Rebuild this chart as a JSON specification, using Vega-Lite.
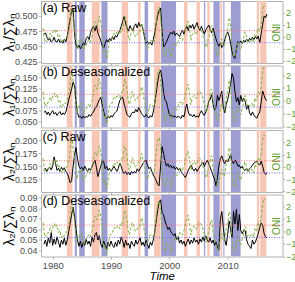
{
"$schema": "https://vega.github.io/schema/vega-lite/v6.json",
"padding": {"left": 1, "top": 0, "right": 0, "bottom": 0},
"spacing": 2.5,
"bounds": "flush",
"config": {
 "font": "Liberation Sans",
 "view": {"stroke": "#B3B3B3", "strokeWidth": 1},
 "axis": {"grid": false, "domain": false, "tickColor": "#B3B3B3", "tickSize": 2.5, "labelFontSize": 9, "labelColor": "#4D4D4D", "titleFontWeight": "normal", "titleColor": "#000000", "labelPadding": 1.5, "labelOverlap": false, "labelFlush": false, "labelBound": false}
},
"datasets": {
 "bands": [
  {"start":1982.43,"end":1983.40,"phase":"El Niño"},
  {"start":1983.79,"end":1984.14,"phase":"La Niña"},
  {"start":1984.56,"end":1985.50,"phase":"La Niña"},
  {"start":1986.70,"end":1988.05,"phase":"El Niño"},
  {"start":1988.35,"end":1989.40,"phase":"La Niña"},
  {"start":1991.83,"end":1992.94,"phase":"El Niño"},
  {"start":1994.65,"end":1995.08,"phase":"El Niño"},
  {"start":1995.76,"end":1996.36,"phase":"La Niña"},
  {"start":1997.38,"end":1998.50,"phase":"El Niño"},
  {"start":1998.58,"end":2001.15,"phase":"La Niña"},
  {"start":2002.51,"end":2003.11,"phase":"El Niño"},
  {"start":2004.65,"end":2005.25,"phase":"El Niño"},
  {"start":2005.93,"end":2006.15,"phase":"La Niña"},
  {"start":2006.50,"end":2006.92,"phase":"El Niño"},
  {"start":2007.56,"end":2008.63,"phase":"La Niña"},
  {"start":2008.75,"end":2009.06,"phase":"El Niño"},
  {"start":2009.26,"end":2009.44,"phase":"La Niña"},
  {"start":2010.55,"end":2012.22,"phase":"La Niña"},
  {"start":2015.00,"end":2015.40,"phase":"El Niño"},
  {"start":2015.57,"end":2016.65,"phase":"El Niño"}
 ],
 "series": [
  {"t":1978.5,"a":0.470,"b":0.071,"c":0.142,"d":0.046},
  {"t":1978.75,"a":0.472,"b":0.074,"c":0.146,"d":0.050},
  {"t":1979.0,"a":0.466,"b":0.066,"c":0.140,"d":0.044},
  {"t":1979.25,"a":0.460,"b":0.072,"c":0.145,"d":0.052},
  {"t":1979.5,"a":0.463,"b":0.064,"c":0.148,"d":0.047},
  {"t":1979.75,"a":0.457,"b":0.070,"c":0.143,"d":0.057},
  {"t":1980.0,"a":0.459,"b":0.075,"c":0.150,"d":0.045},
  {"t":1980.25,"a":0.465,"b":0.067,"c":0.168,"d":0.051},
  {"t":1980.5,"a":0.458,"b":0.071,"c":0.155,"d":0.046},
  {"t":1980.75,"a":0.457,"b":0.064,"c":0.142,"d":0.053},
  {"t":1981.0,"a":0.462,"b":0.069,"c":0.146,"d":0.048},
  {"t":1981.25,"a":0.456,"b":0.073,"c":0.140,"d":0.043},
  {"t":1981.5,"a":0.459,"b":0.065,"c":0.148,"d":0.050},
  {"t":1981.75,"a":0.455,"b":0.070,"c":0.143,"d":0.046},
  {"t":1982.0,"a":0.462,"b":0.066,"c":0.147,"d":0.052},
  {"t":1982.25,"a":0.457,"b":0.072,"c":0.140,"d":0.045},
  {"t":1982.5,"a":0.467,"b":0.085,"c":0.136,"d":0.050},
  {"t":1982.75,"a":0.480,"b":0.100,"c":0.128,"d":0.058},
  {"t":1983.0,"a":0.496,"b":0.112,"c":0.118,"d":0.066},
  {"t":1983.25,"a":0.508,"b":0.125,"c":0.122,"d":0.074},
  {"t":1983.5,"a":0.511,"b":0.140,"c":0.150,"d":0.081},
  {"t":1983.75,"a":0.470,"b":0.132,"c":0.172,"d":0.072},
  {"t":1984.0,"a":0.452,"b":0.095,"c":0.186,"d":0.060},
  {"t":1984.25,"a":0.447,"b":0.070,"c":0.165,"d":0.050},
  {"t":1984.5,"a":0.452,"b":0.060,"c":0.150,"d":0.044},
  {"t":1984.75,"a":0.446,"b":0.062,"c":0.145,"d":0.049},
  {"t":1985.0,"a":0.450,"b":0.057,"c":0.148,"d":0.043},
  {"t":1985.25,"a":0.456,"b":0.063,"c":0.142,"d":0.048},
  {"t":1985.5,"a":0.452,"b":0.058,"c":0.150,"d":0.045},
  {"t":1985.75,"a":0.463,"b":0.062,"c":0.144,"d":0.051},
  {"t":1986.0,"a":0.466,"b":0.060,"c":0.140,"d":0.046},
  {"t":1986.25,"a":0.461,"b":0.066,"c":0.146,"d":0.049},
  {"t":1986.5,"a":0.473,"b":0.062,"c":0.142,"d":0.044},
  {"t":1986.75,"a":0.479,"b":0.068,"c":0.150,"d":0.053},
  {"t":1987.0,"a":0.483,"b":0.072,"c":0.156,"d":0.048},
  {"t":1987.25,"a":0.475,"b":0.080,"c":0.162,"d":0.055},
  {"t":1987.5,"a":0.484,"b":0.083,"c":0.148,"d":0.057},
  {"t":1987.75,"a":0.472,"b":0.092,"c":0.130,"d":0.050},
  {"t":1988.0,"a":0.466,"b":0.100,"c":0.140,"d":0.054},
  {"t":1988.25,"a":0.459,"b":0.106,"c":0.150,"d":0.046},
  {"t":1988.5,"a":0.451,"b":0.088,"c":0.162,"d":0.043},
  {"t":1988.75,"a":0.447,"b":0.072,"c":0.158,"d":0.049},
  {"t":1989.0,"a":0.455,"b":0.060,"c":0.145,"d":0.045},
  {"t":1989.25,"a":0.461,"b":0.056,"c":0.150,"d":0.042},
  {"t":1989.5,"a":0.457,"b":0.062,"c":0.142,"d":0.048},
  {"t":1989.75,"a":0.463,"b":0.058,"c":0.146,"d":0.044},
  {"t":1990.0,"a":0.459,"b":0.064,"c":0.140,"d":0.049},
  {"t":1990.25,"a":0.466,"b":0.060,"c":0.144,"d":0.045},
  {"t":1990.5,"a":0.461,"b":0.068,"c":0.150,"d":0.043},
  {"t":1990.75,"a":0.468,"b":0.071,"c":0.145,"d":0.048},
  {"t":1991.0,"a":0.465,"b":0.074,"c":0.140,"d":0.044},
  {"t":1991.25,"a":0.471,"b":0.086,"c":0.146,"d":0.050},
  {"t":1991.5,"a":0.476,"b":0.098,"c":0.156,"d":0.046},
  {"t":1991.75,"a":0.483,"b":0.104,"c":0.150,"d":0.053},
  {"t":1992.0,"a":0.491,"b":0.106,"c":0.140,"d":0.049},
  {"t":1992.25,"a":0.499,"b":0.090,"c":0.136,"d":0.043},
  {"t":1992.5,"a":0.488,"b":0.078,"c":0.140,"d":0.050},
  {"t":1992.75,"a":0.480,"b":0.066,"c":0.134,"d":0.045},
  {"t":1993.0,"a":0.475,"b":0.062,"c":0.138,"d":0.047},
  {"t":1993.25,"a":0.484,"b":0.060,"c":0.133,"d":0.042},
  {"t":1993.5,"a":0.479,"b":0.068,"c":0.140,"d":0.049},
  {"t":1993.75,"a":0.476,"b":0.072,"c":0.136,"d":0.046},
  {"t":1994.0,"a":0.483,"b":0.070,"c":0.140,"d":0.044},
  {"t":1994.25,"a":0.487,"b":0.078,"c":0.137,"d":0.050},
  {"t":1994.5,"a":0.480,"b":0.072,"c":0.145,"d":0.046},
  {"t":1994.75,"a":0.489,"b":0.082,"c":0.140,"d":0.049},
  {"t":1995.0,"a":0.483,"b":0.075,"c":0.146,"d":0.052},
  {"t":1995.25,"a":0.486,"b":0.068,"c":0.150,"d":0.045},
  {"t":1995.5,"a":0.478,"b":0.064,"c":0.156,"d":0.048},
  {"t":1995.75,"a":0.465,"b":0.060,"c":0.160,"d":0.044},
  {"t":1996.0,"a":0.455,"b":0.066,"c":0.162,"d":0.050},
  {"t":1996.25,"a":0.458,"b":0.062,"c":0.152,"d":0.046},
  {"t":1996.5,"a":0.454,"b":0.058,"c":0.145,"d":0.042},
  {"t":1996.75,"a":0.457,"b":0.064,"c":0.148,"d":0.048},
  {"t":1997.0,"a":0.452,"b":0.060,"c":0.140,"d":0.045},
  {"t":1997.25,"a":0.461,"b":0.072,"c":0.133,"d":0.050},
  {"t":1997.5,"a":0.472,"b":0.092,"c":0.128,"d":0.058},
  {"t":1997.75,"a":0.488,"b":0.115,"c":0.122,"d":0.068},
  {"t":1998.0,"a":0.500,"b":0.140,"c":0.115,"d":0.078},
  {"t":1998.25,"a":0.509,"b":0.160,"c":0.112,"d":0.086},
  {"t":1998.5,"a":0.513,"b":0.168,"c":0.150,"d":0.088},
  {"t":1998.75,"a":0.476,"b":0.150,"c":0.188,"d":0.076},
  {"t":1999.0,"a":0.449,"b":0.118,"c":0.175,"d":0.074},
  {"t":1999.25,"a":0.452,"b":0.100,"c":0.160,"d":0.068},
  {"t":1999.5,"a":0.457,"b":0.095,"c":0.150,"d":0.064},
  {"t":1999.75,"a":0.463,"b":0.080,"c":0.155,"d":0.060},
  {"t":2000.0,"a":0.469,"b":0.066,"c":0.148,"d":0.062},
  {"t":2000.25,"a":0.473,"b":0.062,"c":0.152,"d":0.058},
  {"t":2000.5,"a":0.470,"b":0.064,"c":0.146,"d":0.056},
  {"t":2000.75,"a":0.475,"b":0.060,"c":0.150,"d":0.054},
  {"t":2001.0,"a":0.468,"b":0.063,"c":0.144,"d":0.056},
  {"t":2001.25,"a":0.472,"b":0.059,"c":0.148,"d":0.050},
  {"t":2001.5,"a":0.469,"b":0.062,"c":0.143,"d":0.053},
  {"t":2001.75,"a":0.466,"b":0.060,"c":0.146,"d":0.047},
  {"t":2002.0,"a":0.472,"b":0.057,"c":0.140,"d":0.050},
  {"t":2002.25,"a":0.477,"b":0.065,"c":0.136,"d":0.046},
  {"t":2002.5,"a":0.470,"b":0.060,"c":0.132,"d":0.049},
  {"t":2002.75,"a":0.478,"b":0.078,"c":0.128,"d":0.044},
  {"t":2003.0,"a":0.483,"b":0.090,"c":0.135,"d":0.048},
  {"t":2003.25,"a":0.476,"b":0.072,"c":0.142,"d":0.051},
  {"t":2003.5,"a":0.485,"b":0.064,"c":0.148,"d":0.046},
  {"t":2003.75,"a":0.480,"b":0.066,"c":0.152,"d":0.050},
  {"t":2004.0,"a":0.486,"b":0.061,"c":0.145,"d":0.047},
  {"t":2004.25,"a":0.478,"b":0.066,"c":0.141,"d":0.052},
  {"t":2004.5,"a":0.484,"b":0.060,"c":0.146,"d":0.048},
  {"t":2004.75,"a":0.489,"b":0.063,"c":0.140,"d":0.050},
  {"t":2005.0,"a":0.480,"b":0.060,"c":0.145,"d":0.046},
  {"t":2005.25,"a":0.476,"b":0.069,"c":0.150,"d":0.051},
  {"t":2005.5,"a":0.483,"b":0.075,"c":0.153,"d":0.048},
  {"t":2005.75,"a":0.476,"b":0.068,"c":0.158,"d":0.053},
  {"t":2006.0,"a":0.470,"b":0.064,"c":0.150,"d":0.049},
  {"t":2006.25,"a":0.477,"b":0.072,"c":0.156,"d":0.054},
  {"t":2006.5,"a":0.481,"b":0.080,"c":0.162,"d":0.050},
  {"t":2006.75,"a":0.485,"b":0.096,"c":0.155,"d":0.048},
  {"t":2007.0,"a":0.478,"b":0.100,"c":0.148,"d":0.052},
  {"t":2007.25,"a":0.472,"b":0.112,"c":0.140,"d":0.047},
  {"t":2007.5,"a":0.480,"b":0.090,"c":0.132,"d":0.050},
  {"t":2007.75,"a":0.470,"b":0.076,"c":0.125,"d":0.045},
  {"t":2008.0,"a":0.462,"b":0.082,"c":0.112,"d":0.048},
  {"t":2008.25,"a":0.455,"b":0.110,"c":0.128,"d":0.043},
  {"t":2008.5,"a":0.450,"b":0.098,"c":0.150,"d":0.041},
  {"t":2008.75,"a":0.456,"b":0.108,"c":0.165,"d":0.070},
  {"t":2009.0,"a":0.448,"b":0.120,"c":0.170,"d":0.077},
  {"t":2009.25,"a":0.452,"b":0.082,"c":0.160,"d":0.062},
  {"t":2009.5,"a":0.461,"b":0.070,"c":0.155,"d":0.050},
  {"t":2009.75,"a":0.468,"b":0.090,"c":0.162,"d":0.045},
  {"t":2010.0,"a":0.474,"b":0.100,"c":0.158,"d":0.055},
  {"t":2010.25,"a":0.467,"b":0.116,"c":0.165,"d":0.068},
  {"t":2010.5,"a":0.455,"b":0.135,"c":0.172,"d":0.060},
  {"t":2010.75,"a":0.441,"b":0.160,"c":0.160,"d":0.052},
  {"t":2011.0,"a":0.433,"b":0.150,"c":0.155,"d":0.077},
  {"t":2011.25,"a":0.430,"b":0.118,"c":0.162,"d":0.065},
  {"t":2011.5,"a":0.446,"b":0.095,"c":0.158,"d":0.079},
  {"t":2011.75,"a":0.458,"b":0.105,"c":0.150,"d":0.059},
  {"t":2012.0,"a":0.455,"b":0.088,"c":0.152,"d":0.074},
  {"t":2012.25,"a":0.459,"b":0.110,"c":0.146,"d":0.059},
  {"t":2012.5,"a":0.454,"b":0.096,"c":0.150,"d":0.056},
  {"t":2012.75,"a":0.460,"b":0.104,"c":0.143,"d":0.059},
  {"t":2013.0,"a":0.457,"b":0.096,"c":0.142,"d":0.059},
  {"t":2013.25,"a":0.462,"b":0.078,"c":0.146,"d":0.050},
  {"t":2013.5,"a":0.458,"b":0.088,"c":0.140,"d":0.046},
  {"t":2013.75,"a":0.463,"b":0.070,"c":0.145,"d":0.044},
  {"t":2014.0,"a":0.460,"b":0.064,"c":0.148,"d":0.042},
  {"t":2014.25,"a":0.465,"b":0.072,"c":0.152,"d":0.050},
  {"t":2014.5,"a":0.461,"b":0.065,"c":0.156,"d":0.046},
  {"t":2014.75,"a":0.466,"b":0.060,"c":0.158,"d":0.048},
  {"t":2015.0,"a":0.462,"b":0.058,"c":0.160,"d":0.052},
  {"t":2015.25,"a":0.467,"b":0.066,"c":0.155,"d":0.056},
  {"t":2015.5,"a":0.456,"b":0.072,"c":0.152,"d":0.062},
  {"t":2015.75,"a":0.471,"b":0.095,"c":0.160,"d":0.066},
  {"t":2016.0,"a":0.486,"b":0.120,"c":0.150,"d":0.064},
  {"t":2016.25,"a":0.500,"b":0.110,"c":0.138,"d":0.056},
  {"t":2016.5,"a":0.497,"b":0.100,"c":0.134,"d":0.053},
  {"t":2016.75,"a":0.503,"b":0.098,"c":0.138,"d":0.052}
 ],
 "oni": [
  {"t":1978.35,"o":0.7},{"t":1978.43,"o":0.4},{"t":1978.52,"o":0.0},{"t":1978.6,"o":-0.3},{"t":1978.68,"o":-0.4},{"t":1978.77,"o":-0.3},{"t":1978.85,"o":-0.4},{"t":1978.93,"o":-0.4},{"t":1979.02,"o":-0.4},{"t":1979.1,"o":-0.3},{"t":1979.18,"o":-0.1},{"t":1979.27,"o":-0.1},
  {"t":1979.35,"o":-0.1},{"t":1979.43,"o":0.1},{"t":1979.52,"o":0.2},{"t":1979.6,"o":0.3},{"t":1979.68,"o":0.2},{"t":1979.77,"o":0.0},{"t":1979.85,"o":0.0},{"t":1979.93,"o":0.2},{"t":1980.02,"o":0.3},{"t":1980.1,"o":0.5},{"t":1980.18,"o":0.5},{"t":1980.27,"o":0.6},
  {"t":1980.35,"o":0.6},{"t":1980.43,"o":0.5},{"t":1980.52,"o":0.3},{"t":1980.6,"o":0.4},{"t":1980.68,"o":0.5},{"t":1980.77,"o":0.5},{"t":1980.85,"o":0.3},{"t":1980.93,"o":0.0},{"t":1981.02,"o":-0.1},{"t":1981.1,"o":0.0},{"t":1981.18,"o":0.1},{"t":1981.27,"o":0.0},
  {"t":1981.35,"o":-0.3},{"t":1981.43,"o":-0.5},{"t":1981.52,"o":-0.5},{"t":1981.6,"o":-0.4},{"t":1981.68,"o":-0.3},{"t":1981.77,"o":-0.3},{"t":1981.85,"o":-0.4},{"t":1981.93,"o":-0.4},{"t":1982.02,"o":-0.3},{"t":1982.1,"o":-0.2},{"t":1982.18,"o":-0.2},{"t":1982.27,"o":-0.1},
  {"t":1982.35,"o":-0.1},{"t":1982.43,"o":0.0},{"t":1982.52,"o":0.1},{"t":1982.6,"o":0.3},{"t":1982.68,"o":0.5},{"t":1982.77,"o":0.6},{"t":1982.85,"o":0.7},{"t":1982.93,"o":1.0},{"t":1983.02,"o":1.5},{"t":1983.1,"o":1.9},{"t":1983.18,"o":2.1},{"t":1983.27,"o":2.2},
  {"t":1983.35,"o":2.2},{"t":1983.43,"o":1.9},{"t":1983.52,"o":1.5},{"t":1983.6,"o":1.3},{"t":1983.68,"o":1.1},{"t":1983.77,"o":0.7},{"t":1983.85,"o":0.3},{"t":1983.93,"o":-0.1},{"t":1984.02,"o":-0.5},{"t":1984.1,"o":-0.8},{"t":1984.18,"o":-1.0},{"t":1984.27,"o":-0.9},
  {"t":1984.35,"o":-0.6},{"t":1984.43,"o":-0.4},{"t":1984.52,"o":-0.3},{"t":1984.6,"o":-0.4},{"t":1984.68,"o":-0.5},{"t":1984.77,"o":-0.4},{"t":1984.85,"o":-0.3},{"t":1984.93,"o":-0.2},{"t":1985.02,"o":-0.2},{"t":1985.1,"o":-0.6},{"t":1985.18,"o":-0.9},{"t":1985.27,"o":-1.1},
  {"t":1985.35,"o":-1.0},{"t":1985.43,"o":-0.8},{"t":1985.52,"o":-0.8},{"t":1985.6,"o":-0.8},{"t":1985.68,"o":-0.8},{"t":1985.77,"o":-0.6},{"t":1985.85,"o":-0.5},{"t":1985.93,"o":-0.5},{"t":1986.02,"o":-0.4},{"t":1986.1,"o":-0.3},{"t":1986.18,"o":-0.3},{"t":1986.27,"o":-0.4},
  {"t":1986.35,"o":-0.5},{"t":1986.43,"o":-0.5},{"t":1986.52,"o":-0.3},{"t":1986.6,"o":-0.2},{"t":1986.68,"o":-0.1},{"t":1986.77,"o":0.0},{"t":1986.85,"o":0.2},{"t":1986.93,"o":0.4},{"t":1987.02,"o":0.7},{"t":1987.1,"o":0.9},{"t":1987.18,"o":1.1},{"t":1987.27,"o":1.2},
  {"t":1987.35,"o":1.2},{"t":1987.43,"o":1.2},{"t":1987.52,"o":1.1},{"t":1987.6,"o":0.9},{"t":1987.68,"o":1.0},{"t":1987.77,"o":1.2},{"t":1987.85,"o":1.5},{"t":1987.93,"o":1.7},{"t":1988.02,"o":1.6},{"t":1988.1,"o":1.5},{"t":1988.18,"o":1.3},{"t":1988.27,"o":1.1},
  {"t":1988.35,"o":0.8},{"t":1988.43,"o":0.5},{"t":1988.52,"o":0.1},{"t":1988.6,"o":-0.3},{"t":1988.68,"o":-0.9},{"t":1988.77,"o":-1.3},{"t":1988.85,"o":-1.3},{"t":1988.93,"o":-1.1},{"t":1989.02,"o":-1.2},{"t":1989.1,"o":-1.5},{"t":1989.18,"o":-1.8},{"t":1989.27,"o":-1.8},
  {"t":1989.35,"o":-1.7},{"t":1989.43,"o":-1.4},{"t":1989.52,"o":-1.1},{"t":1989.6,"o":-0.8},{"t":1989.68,"o":-0.6},{"t":1989.77,"o":-0.4},{"t":1989.85,"o":-0.3},{"t":1989.93,"o":-0.3},{"t":1990.02,"o":-0.2},{"t":1990.1,"o":-0.2},{"t":1990.18,"o":-0.2},{"t":1990.27,"o":-0.1},
  {"t":1990.35,"o":0.1},{"t":1990.43,"o":0.2},{"t":1990.52,"o":0.3},{"t":1990.6,"o":0.3},{"t":1990.68,"o":0.2},{"t":1990.77,"o":0.2},{"t":1990.85,"o":0.3},{"t":1990.93,"o":0.3},{"t":1991.02,"o":0.4},{"t":1991.1,"o":0.3},{"t":1991.18,"o":0.4},{"t":1991.27,"o":0.4},
  {"t":1991.35,"o":0.4},{"t":1991.43,"o":0.3},{"t":1991.52,"o":0.2},{"t":1991.6,"o":0.3},{"t":1991.68,"o":0.5},{"t":1991.77,"o":0.6},{"t":1991.85,"o":0.7},{"t":1991.93,"o":0.6},{"t":1992.02,"o":0.6},{"t":1992.1,"o":0.8},{"t":1992.18,"o":1.2},{"t":1992.27,"o":1.5},
  {"t":1992.35,"o":1.7},{"t":1992.43,"o":1.6},{"t":1992.52,"o":1.5},{"t":1992.6,"o":1.3},{"t":1992.68,"o":1.1},{"t":1992.77,"o":0.7},{"t":1992.85,"o":0.4},{"t":1992.93,"o":0.1},{"t":1993.02,"o":-0.1},{"t":1993.1,"o":-0.2},{"t":1993.18,"o":-0.3},{"t":1993.27,"o":-0.1},
  {"t":1993.35,"o":0.1},{"t":1993.43,"o":0.3},{"t":1993.52,"o":0.5},{"t":1993.6,"o":0.7},{"t":1993.68,"o":0.7},{"t":1993.77,"o":0.6},{"t":1993.85,"o":0.3},{"t":1993.93,"o":0.3},{"t":1994.02,"o":0.2},{"t":1994.1,"o":0.1},{"t":1994.18,"o":0.0},{"t":1994.27,"o":0.1},
  {"t":1994.35,"o":0.1},{"t":1994.43,"o":0.1},{"t":1994.52,"o":0.2},{"t":1994.6,"o":0.3},{"t":1994.68,"o":0.4},{"t":1994.77,"o":0.4},{"t":1994.85,"o":0.4},{"t":1994.93,"o":0.4},{"t":1995.02,"o":0.6},{"t":1995.1,"o":0.7},{"t":1995.18,"o":1.0},{"t":1995.27,"o":1.1},
  {"t":1995.35,"o":1.0},{"t":1995.43,"o":0.7},{"t":1995.52,"o":0.5},{"t":1995.6,"o":0.3},{"t":1995.68,"o":0.1},{"t":1995.77,"o":0.0},{"t":1995.85,"o":-0.2},{"t":1995.93,"o":-0.5},{"t":1996.02,"o":-0.8},{"t":1996.1,"o":-1.0},{"t":1996.18,"o":-1.0},{"t":1996.27,"o":-1.0},
  {"t":1996.35,"o":-0.9},{"t":1996.43,"o":-0.8},{"t":1996.52,"o":-0.6},{"t":1996.6,"o":-0.4},{"t":1996.68,"o":-0.3},{"t":1996.77,"o":-0.3},{"t":1996.85,"o":-0.3},{"t":1996.93,"o":-0.3},{"t":1997.02,"o":-0.4},{"t":1997.1,"o":-0.4},{"t":1997.18,"o":-0.4},{"t":1997.27,"o":-0.5},
  {"t":1997.35,"o":-0.5},{"t":1997.43,"o":-0.4},{"t":1997.52,"o":-0.1},{"t":1997.6,"o":0.3},{"t":1997.68,"o":0.8},{"t":1997.77,"o":1.2},{"t":1997.85,"o":1.6},{"t":1997.93,"o":1.9},{"t":1998.02,"o":2.1},{"t":1998.1,"o":2.3},{"t":1998.18,"o":2.4},{"t":1998.27,"o":2.4},
  {"t":1998.35,"o":2.2},{"t":1998.43,"o":1.9},{"t":1998.52,"o":1.4},{"t":1998.6,"o":1.0},{"t":1998.68,"o":0.5},{"t":1998.77,"o":-0.1},{"t":1998.85,"o":-0.8},{"t":1998.93,"o":-1.1},{"t":1999.02,"o":-1.3},{"t":1999.1,"o":-1.4},{"t":1999.18,"o":-1.5},{"t":1999.27,"o":-1.6},
  {"t":1999.35,"o":-1.5},{"t":1999.43,"o":-1.3},{"t":1999.52,"o":-1.1},{"t":1999.6,"o":-1.0},{"t":1999.68,"o":-1.0},{"t":1999.77,"o":-1.0},{"t":1999.85,"o":-1.1},{"t":1999.93,"o":-1.1},{"t":2000.02,"o":-1.2},{"t":2000.1,"o":-1.3},{"t":2000.18,"o":-1.5},{"t":2000.27,"o":-1.7},
  {"t":2000.35,"o":-1.7},{"t":2000.43,"o":-1.4},{"t":2000.52,"o":-1.1},{"t":2000.6,"o":-0.8},{"t":2000.68,"o":-0.7},{"t":2000.77,"o":-0.6},{"t":2000.85,"o":-0.6},{"t":2000.93,"o":-0.5},{"t":2001.02,"o":-0.5},{"t":2001.1,"o":-0.6},{"t":2001.18,"o":-0.7},{"t":2001.27,"o":-0.7},
  {"t":2001.35,"o":-0.7},{"t":2001.43,"o":-0.5},{"t":2001.52,"o":-0.4},{"t":2001.6,"o":-0.3},{"t":2001.68,"o":-0.3},{"t":2001.77,"o":-0.1},{"t":2001.85,"o":-0.1},{"t":2001.93,"o":-0.1},{"t":2002.02,"o":-0.2},{"t":2002.1,"o":-0.3},{"t":2002.18,"o":-0.3},{"t":2002.27,"o":-0.3},
  {"t":2002.35,"o":-0.1},{"t":2002.43,"o":0.0},{"t":2002.52,"o":0.1},{"t":2002.6,"o":0.2},{"t":2002.68,"o":0.4},{"t":2002.77,"o":0.7},{"t":2002.85,"o":0.8},{"t":2002.93,"o":0.9},{"t":2003.02,"o":1.0},{"t":2003.1,"o":1.2},{"t":2003.18,"o":1.3},{"t":2003.27,"o":1.1},
  {"t":2003.35,"o":0.9},{"t":2003.43,"o":0.6},{"t":2003.52,"o":0.4},{"t":2003.6,"o":0.0},{"t":2003.68,"o":-0.3},{"t":2003.77,"o":-0.2},{"t":2003.85,"o":0.1},{"t":2003.93,"o":0.2},{"t":2004.02,"o":0.3},{"t":2004.1,"o":0.3},{"t":2004.18,"o":0.4},{"t":2004.27,"o":0.4},
  {"t":2004.35,"o":0.4},{"t":2004.43,"o":0.3},{"t":2004.52,"o":0.2},{"t":2004.6,"o":0.2},{"t":2004.68,"o":0.2},{"t":2004.77,"o":0.3},{"t":2004.85,"o":0.5},{"t":2004.93,"o":0.6},{"t":2005.02,"o":0.7},{"t":2005.1,"o":0.7},{"t":2005.18,"o":0.7},{"t":2005.27,"o":0.7},
  {"t":2005.35,"o":0.6},{"t":2005.43,"o":0.6},{"t":2005.52,"o":0.4},{"t":2005.6,"o":0.4},{"t":2005.68,"o":0.3},{"t":2005.77,"o":0.1},{"t":2005.85,"o":-0.1},{"t":2005.93,"o":-0.1},{"t":2006.02,"o":-0.1},{"t":2006.1,"o":-0.3},{"t":2006.18,"o":-0.6},{"t":2006.27,"o":-0.8},
  {"t":2006.35,"o":-0.9},{"t":2006.43,"o":-0.8},{"t":2006.52,"o":-0.6},{"t":2006.6,"o":-0.4},{"t":2006.68,"o":-0.1},{"t":2006.77,"o":0.0},{"t":2006.85,"o":0.1},{"t":2006.93,"o":0.3},{"t":2007.02,"o":0.5},{"t":2007.1,"o":0.8},{"t":2007.18,"o":0.9},{"t":2007.27,"o":0.9},
  {"t":2007.35,"o":0.7},{"t":2007.43,"o":0.2},{"t":2007.52,"o":-0.1},{"t":2007.6,"o":-0.3},{"t":2007.68,"o":-0.4},{"t":2007.77,"o":-0.5},{"t":2007.85,"o":-0.6},{"t":2007.93,"o":-0.8},{"t":2008.02,"o":-1.1},{"t":2008.1,"o":-1.3},{"t":2008.18,"o":-1.5},{"t":2008.27,"o":-1.6},
  {"t":2008.35,"o":-1.6},{"t":2008.43,"o":-1.5},{"t":2008.52,"o":-1.3},{"t":2008.6,"o":-1.0},{"t":2008.68,"o":-0.8},{"t":2008.77,"o":-0.6},{"t":2008.85,"o":-0.4},{"t":2008.93,"o":-0.2},{"t":2009.02,"o":-0.2},{"t":2009.1,"o":-0.4},{"t":2009.18,"o":-0.6},{"t":2009.27,"o":-0.7},
  {"t":2009.35,"o":-0.8},{"t":2009.43,"o":-0.8},{"t":2009.52,"o":-0.6},{"t":2009.6,"o":-0.3},{"t":2009.68,"o":0.0},{"t":2009.77,"o":0.3},{"t":2009.85,"o":0.5},{"t":2009.93,"o":0.6},{"t":2010.02,"o":0.7},{"t":2010.1,"o":1.0},{"t":2010.18,"o":1.4},{"t":2010.27,"o":1.6},
  {"t":2010.35,"o":1.5},{"t":2010.43,"o":1.2},{"t":2010.52,"o":0.8},{"t":2010.6,"o":0.4},{"t":2010.68,"o":-0.2},{"t":2010.77,"o":-0.7},{"t":2010.85,"o":-1.0},{"t":2010.93,"o":-1.3},{"t":2011.02,"o":-1.6},{"t":2011.1,"o":-1.6},{"t":2011.18,"o":-1.6},{"t":2011.27,"o":-1.6},
  {"t":2011.35,"o":-1.4},{"t":2011.43,"o":-1.2},{"t":2011.52,"o":-0.9},{"t":2011.6,"o":-0.7},{"t":2011.68,"o":-0.6},{"t":2011.77,"o":-0.4},{"t":2011.85,"o":-0.5},{"t":2011.93,"o":-0.6},{"t":2012.02,"o":-0.8},{"t":2012.1,"o":-1.0},{"t":2012.18,"o":-1.1},{"t":2012.27,"o":-1.0},
  {"t":2012.35,"o":-0.9},{"t":2012.43,"o":-0.7},{"t":2012.52,"o":-0.6},{"t":2012.6,"o":-0.5},{"t":2012.68,"o":-0.3},{"t":2012.77,"o":0.0},{"t":2012.85,"o":0.2},{"t":2012.93,"o":0.4},{"t":2013.02,"o":0.4},{"t":2013.1,"o":0.3},{"t":2013.18,"o":0.1},{"t":2013.27,"o":-0.2},
  {"t":2013.35,"o":-0.4},{"t":2013.43,"o":-0.4},{"t":2013.52,"o":-0.3},{"t":2013.6,"o":-0.3},{"t":2013.68,"o":-0.4},{"t":2013.77,"o":-0.4},{"t":2013.85,"o":-0.4},{"t":2013.93,"o":-0.3},{"t":2014.02,"o":-0.3},{"t":2014.1,"o":-0.2},{"t":2014.18,"o":-0.2},{"t":2014.27,"o":-0.3},
  {"t":2014.35,"o":-0.4},{"t":2014.43,"o":-0.5},{"t":2014.52,"o":-0.3},{"t":2014.6,"o":0.0},{"t":2014.68,"o":0.2},{"t":2014.77,"o":0.2},{"t":2014.85,"o":0.0},{"t":2014.93,"o":0.1},{"t":2015.02,"o":0.2},{"t":2015.1,"o":0.5},{"t":2015.18,"o":0.6},{"t":2015.27,"o":0.7},
  {"t":2015.35,"o":0.5},{"t":2015.43,"o":0.5},{"t":2015.52,"o":0.5},{"t":2015.6,"o":0.7},{"t":2015.68,"o":0.9},{"t":2015.77,"o":1.2},{"t":2015.85,"o":1.5},{"t":2015.93,"o":1.9},{"t":2016.02,"o":2.2},{"t":2016.1,"o":2.4},{"t":2016.18,"o":2.6},{"t":2016.27,"o":2.6},
  {"t":2016.35,"o":2.5}
 ]
},
"vconcat": [
 {"width": 241.5, "height": 62,
  "layer": [
   {"data": {"name": "bands"}, "mark": {"type": "rect", "clip": true},
    "encoding": {
     "x": {"field": "start", "type": "quantitative", "scale": {"domain": [1978, 2019.4], "nice": false, "zero": false}, "axis": {"values": [1980,1990,2000,2010], "labels": false, "title": null}},
     "x2": {"field": "end"},
     "fill": {"field": "phase", "type": "nominal", "scale": {"domain": ["El Niño","La Niña"], "range": ["#F8C6B5","#9D9DD2"]}, "legend": null}}},
   {"data": {"name": "series"}, "mark": {"type": "line", "color": "#000000", "strokeWidth": 1, "clip": true},
    "encoding": {"x": {"field": "t", "type": "quantitative"},
     "y": {"field": "a", "type": "quantitative", "scale": {"domain": [0.4226, 0.5245], "nice": false, "zero": false},
      "axis": {"orient": "left", "values": [0.425,0.45,0.475,0.5], "format": ".3f", "labelOverlap": false, "title": "λ₁/∑λₙ", "titleFontSize": 14, "minExtent": 24, "maxExtent": 24, "titlePadding": 1}}}},
   {"data": {"values": [{"label": "(a) Raw"}]}, "mark": {"type": "text", "align": "left", "baseline": "top", "fontSize": 12.5, "dx": 1.5, "dy": 0.5, "color": "#000000"},
    "encoding": {"text": {"field": "label"}, "x": {"datum": 1978}, "y": {"datum": 0.5245, "scale": {"domain": [0.4226, 0.5245], "nice": false, "zero": false}, "axis": null}}},
   {"data": {"values": [{"v": 0.5}]}, "mark": {"type": "rule", "color": "#FF7070", "strokeWidth": 1, "strokeDash": [1, 1.5]}, "encoding": {"y": {"field": "v", "type": "quantitative", "scale": {"domain": [-2.17, 2.95], "nice": false, "zero": false}, "axis": null}}},
   {"data": {"values": [{"v": -0.5}]}, "mark": {"type": "rule", "color": "#7070FF", "strokeWidth": 1, "strokeDash": [1, 1.5]}, "encoding": {"y": {"field": "v", "type": "quantitative", "scale": {"domain": [-2.17, 2.95], "nice": false, "zero": false}, "axis": null}}},
   {"data": {"name": "oni"}, "mark": {"type": "line", "color": "#7FB241", "strokeWidth": 1, "strokeDash": [3, 2], "clip": true},
    "encoding": {"x": {"field": "t", "type": "quantitative"},
     "y": {"field": "o", "type": "quantitative", "scale": {"domain": [-2.17, 2.95], "nice": false, "zero": false},
      "axis": {"orient": "right", "values": [-2,-1,0,1,2], "format": "d", "labelOverlap": false, "title": "ONI", "labelColor": "#5E9E2E", "titleColor": "#5E9E2E", "titleFontSize": 10, "titleAngle": 270, "titleX": -6, "titleBaseline": "middle", "titleAlign": "center", "tickSize": 2, "labelPadding": 1}}}}
  ],
  "resolve": {"scale": {"y": "independent"}}
 },
 {"width": 241.5, "height": 62,
  "layer": [
   {"data": {"name": "bands"}, "mark": {"type": "rect", "clip": true},
    "encoding": {
     "x": {"field": "start", "type": "quantitative", "scale": {"domain": [1978, 2019.4], "nice": false, "zero": false}, "axis": {"values": [1980,1990,2000,2010], "labels": false, "title": null}},
     "x2": {"field": "end"},
     "fill": {"field": "phase", "type": "nominal", "scale": {"domain": ["El Niño","La Niña"], "range": ["#F8C6B5","#9D9DD2"]}, "legend": null}}},
   {"data": {"name": "series"}, "mark": {"type": "line", "color": "#000000", "strokeWidth": 1, "clip": true},
    "encoding": {"x": {"field": "t", "type": "quantitative"},
     "y": {"field": "b", "type": "quantitative", "scale": {"domain": [0.0364, 0.1784], "nice": false, "zero": false},
      "axis": {"orient": "left", "values": [0.05,0.075,0.1,0.125,0.15], "format": ".3f", "labelOverlap": false, "title": "λ₁/∑λₙ", "titleFontSize": 14, "minExtent": 24, "maxExtent": 24, "titlePadding": 1}}}},
   {"data": {"values": [{"label": "(b) Deseasonalized"}]}, "mark": {"type": "text", "align": "left", "baseline": "top", "fontSize": 12.5, "dx": 1.5, "dy": 0.5, "color": "#000000"},
    "encoding": {"text": {"field": "label"}, "x": {"datum": 1978}, "y": {"datum": 0.1784, "scale": {"domain": [0.0364, 0.1784], "nice": false, "zero": false}, "axis": null}}},
   {"data": {"values": [{"v": 0.5}]}, "mark": {"type": "rule", "color": "#FF7070", "strokeWidth": 1, "strokeDash": [1, 1.5]}, "encoding": {"y": {"field": "v", "type": "quantitative", "scale": {"domain": [-2.09, 2.75], "nice": false, "zero": false}, "axis": null}}},
   {"data": {"values": [{"v": -0.5}]}, "mark": {"type": "rule", "color": "#7070FF", "strokeWidth": 1, "strokeDash": [1, 1.5]}, "encoding": {"y": {"field": "v", "type": "quantitative", "scale": {"domain": [-2.09, 2.75], "nice": false, "zero": false}, "axis": null}}},
   {"data": {"name": "oni"}, "mark": {"type": "line", "color": "#7FB241", "strokeWidth": 1, "strokeDash": [3, 2], "clip": true},
    "encoding": {"x": {"field": "t", "type": "quantitative"},
     "y": {"field": "o", "type": "quantitative", "scale": {"domain": [-2.09, 2.75], "nice": false, "zero": false},
      "axis": {"orient": "right", "values": [-2,-1,0,1,2], "format": "d", "labelOverlap": false, "title": "ONI", "labelColor": "#5E9E2E", "titleColor": "#5E9E2E", "titleFontSize": 10, "titleAngle": 270, "titleX": -6, "titleBaseline": "middle", "titleAlign": "center", "tickSize": 2, "labelPadding": 1}}}}
  ],
  "resolve": {"scale": {"y": "independent"}}
 },
 {"width": 241.5, "height": 62,
  "layer": [
   {"data": {"name": "bands"}, "mark": {"type": "rect", "clip": true},
    "encoding": {
     "x": {"field": "start", "type": "quantitative", "scale": {"domain": [1978, 2019.4], "nice": false, "zero": false}, "axis": {"values": [1980,1990,2000,2010], "labels": false, "title": null}},
     "x2": {"field": "end"},
     "fill": {"field": "phase", "type": "nominal", "scale": {"domain": ["El Niño","La Niña"], "range": ["#F8C6B5","#9D9DD2"]}, "legend": null}}},
   {"data": {"name": "series"}, "mark": {"type": "line", "color": "#000000", "strokeWidth": 1, "clip": true},
    "encoding": {"x": {"field": "t", "type": "quantitative"},
     "y": {"field": "c", "type": "quantitative", "scale": {"domain": [0.1002, 0.2199], "nice": false, "zero": false},
      "axis": {"orient": "left", "values": [0.125,0.15,0.175,0.2], "format": ".3f", "labelOverlap": false, "title": "λ₂/∑λₙ", "titleFontSize": 14, "minExtent": 24, "maxExtent": 24, "titlePadding": 1}}}},
   {"data": {"values": [{"label": "(c) Raw"}]}, "mark": {"type": "text", "align": "left", "baseline": "top", "fontSize": 12.5, "dx": 1.5, "dy": 0.5, "color": "#000000"},
    "encoding": {"text": {"field": "label"}, "x": {"datum": 1978}, "y": {"datum": 0.2199, "scale": {"domain": [0.1002, 0.2199], "nice": false, "zero": false}, "axis": null}}},
   {"data": {"values": [{"v": 0.5}]}, "mark": {"type": "rule", "color": "#FF7070", "strokeWidth": 1, "strokeDash": [1, 1.5]}, "encoding": {"y": {"field": "v", "type": "quantitative", "scale": {"domain": [-2.06, 3.02], "nice": false, "zero": false}, "axis": null}}},
   {"data": {"values": [{"v": -0.5}]}, "mark": {"type": "rule", "color": "#7070FF", "strokeWidth": 1, "strokeDash": [1, 1.5]}, "encoding": {"y": {"field": "v", "type": "quantitative", "scale": {"domain": [-2.06, 3.02], "nice": false, "zero": false}, "axis": null}}},
   {"data": {"name": "oni"}, "mark": {"type": "line", "color": "#7FB241", "strokeWidth": 1, "strokeDash": [3, 2], "clip": true},
    "encoding": {"x": {"field": "t", "type": "quantitative"},
     "y": {"field": "o", "type": "quantitative", "scale": {"domain": [-2.06, 3.02], "nice": false, "zero": false},
      "axis": {"orient": "right", "values": [-2,-1,0,1,2], "format": "d", "labelOverlap": false, "title": "ONI", "labelColor": "#5E9E2E", "titleColor": "#5E9E2E", "titleFontSize": 10, "titleAngle": 270, "titleX": -6, "titleBaseline": "middle", "titleAlign": "center", "tickSize": 2, "labelPadding": 1}}}}
  ],
  "resolve": {"scale": {"y": "independent"}}
 },
 {"width": 241.5, "height": 62,
  "layer": [
   {"data": {"name": "bands"}, "mark": {"type": "rect", "clip": true},
    "encoding": {
     "x": {"field": "start", "type": "quantitative", "scale": {"domain": [1978, 2019.4], "nice": false, "zero": false}, "axis": {"values": [1980,1990,2000,2010], "format": "d", "title": "Time", "titleFontStyle": "italic", "titleFontSize": 11.5, "labelFontSize": 9.5, "labelPadding": 1, "titlePadding": 1}},
     "x2": {"field": "end"},
     "fill": {"field": "phase", "type": "nominal", "scale": {"domain": ["El Niño","La Niña"], "range": ["#F8C6B5","#9D9DD2"]}, "legend": null}}},
   {"data": {"name": "series"}, "mark": {"type": "line", "color": "#000000", "strokeWidth": 1, "clip": true},
    "encoding": {"x": {"field": "t", "type": "quantitative"},
     "y": {"field": "d", "type": "quantitative", "scale": {"domain": [0.0344, 0.0930], "nice": false, "zero": false},
      "axis": {"orient": "left", "values": [0.04,0.05,0.06,0.07,0.08,0.09], "format": ".2f", "labelOverlap": false, "title": "λ₂/∑λₙ", "titleFontSize": 14, "minExtent": 24, "maxExtent": 24, "titlePadding": 1}}}},
   {"data": {"values": [{"label": "(d) Deseasonalized"}]}, "mark": {"type": "text", "align": "left", "baseline": "top", "fontSize": 12.5, "dx": 1.5, "dy": 0.5, "color": "#000000"},
    "encoding": {"text": {"field": "label"}, "x": {"datum": 1978}, "y": {"datum": 0.0930, "scale": {"domain": [0.0344, 0.0930], "nice": false, "zero": false}, "axis": null}}},
   {"data": {"values": [{"v": 0.5}]}, "mark": {"type": "rule", "color": "#FF7070", "strokeWidth": 1, "strokeDash": [1, 1.5]}, "encoding": {"y": {"field": "v", "type": "quantitative", "scale": {"domain": [-2.02, 2.95], "nice": false, "zero": false}, "axis": null}}},
   {"data": {"values": [{"v": -0.5}]}, "mark": {"type": "rule", "color": "#7070FF", "strokeWidth": 1, "strokeDash": [1, 1.5]}, "encoding": {"y": {"field": "v", "type": "quantitative", "scale": {"domain": [-2.02, 2.95], "nice": false, "zero": false}, "axis": null}}},
   {"data": {"name": "oni"}, "mark": {"type": "line", "color": "#7FB241", "strokeWidth": 1, "strokeDash": [3, 2], "clip": true},
    "encoding": {"x": {"field": "t", "type": "quantitative"},
     "y": {"field": "o", "type": "quantitative", "scale": {"domain": [-2.02, 2.95], "nice": false, "zero": false},
      "axis": {"orient": "right", "values": [-2,-1,0,1,2], "format": "d", "labelOverlap": false, "title": "ONI", "labelColor": "#5E9E2E", "titleColor": "#5E9E2E", "titleFontSize": 10, "titleAngle": 270, "titleX": -6, "titleBaseline": "middle", "titleAlign": "center", "tickSize": 2, "labelPadding": 1}}}}
  ],
  "resolve": {"scale": {"y": "independent"}}
 }
]
}
